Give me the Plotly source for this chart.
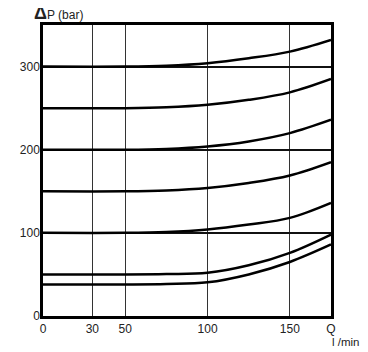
import plotly.graph_objects as go

# caudal (l/min) y curvas de presión (bar)
q = [0, 50, 75, 100, 125, 150, 175]
p300 = [300, 300, 301, 304, 310, 318, 332]
p250 = [250, 250, 251, 254, 260, 269, 285]
p200 = [200, 200, 201, 204, 210, 220, 236]
p150 = [150, 150, 151, 154, 160, 169, 185]
p100 = [100, 100, 101, 104, 110, 118, 136]
p50 = [50, 50, 50.5, 52, 61, 76, 98]
p38 = [38, 38, 38.5, 40.5, 50, 65, 86]

x_ticks = [0, 30, 50, 100, 150, 175]
x_labels = ['0', '30', '50', '100', '150', 'Q']
y_ticks = [0, 100, 200, 300]
y_labels = ['0', '100', '200', '300']

fig = go.Figure()
for serie in [p300, p250, p200, p150, p100, p50, p38]:
    fig.add_trace(go.Scatter(x=q, y=serie, mode='lines',
                             line=dict(color='black', width=2.5, shape='spline', smoothing=1.0),
                             showlegend=False, hoverinfo='skip'))

# la página añade 8 px de margen alrededor del lienzo
fig.update_layout(
    width=360, height=344,
    margin=dict(l=33, r=37, t=17, b=36),
    plot_bgcolor='white', paper_bgcolor='white',
    font=dict(family='Liberation Sans, Arial', size=12, color='#222'),
    xaxis=dict(range=[0, 175], tickvals=x_ticks, ticktext=x_labels,
               showgrid=True, gridcolor='#333', gridwidth=1.2,
               showline=True, linecolor='black', linewidth=2.5, mirror=True,
               zeroline=False, ticks=''),
    yaxis=dict(range=[0, 350], tickvals=y_ticks, ticktext=y_labels,
               showgrid=True, gridcolor='#111', gridwidth=1.8,
               showline=True, linecolor='black', linewidth=2.5, mirror=True,
               zeroline=False, ticks='', ticklabelstandoff=-2),
    annotations=[
        dict(text='<b><span style="font-size:18px">Δ</span></b>P (bar)',
             x=0, y=1, xref='paper', yref='paper', xshift=-11, yshift=12,
             xanchor='left', yanchor='middle', showarrow=False, font=dict(size=12)),
        dict(text='l /min', x=1, y=0, xref='paper', yref='paper',
             xshift=30, yshift=-26, xanchor='right', yanchor='middle', showarrow=False,
             font=dict(size=11.5)),
    ],
)

# sin barras de desplazamiento para que no recorten el borde derecho
fig.write_html("out.html", post_script="document.body.style.overflow='hidden';")
